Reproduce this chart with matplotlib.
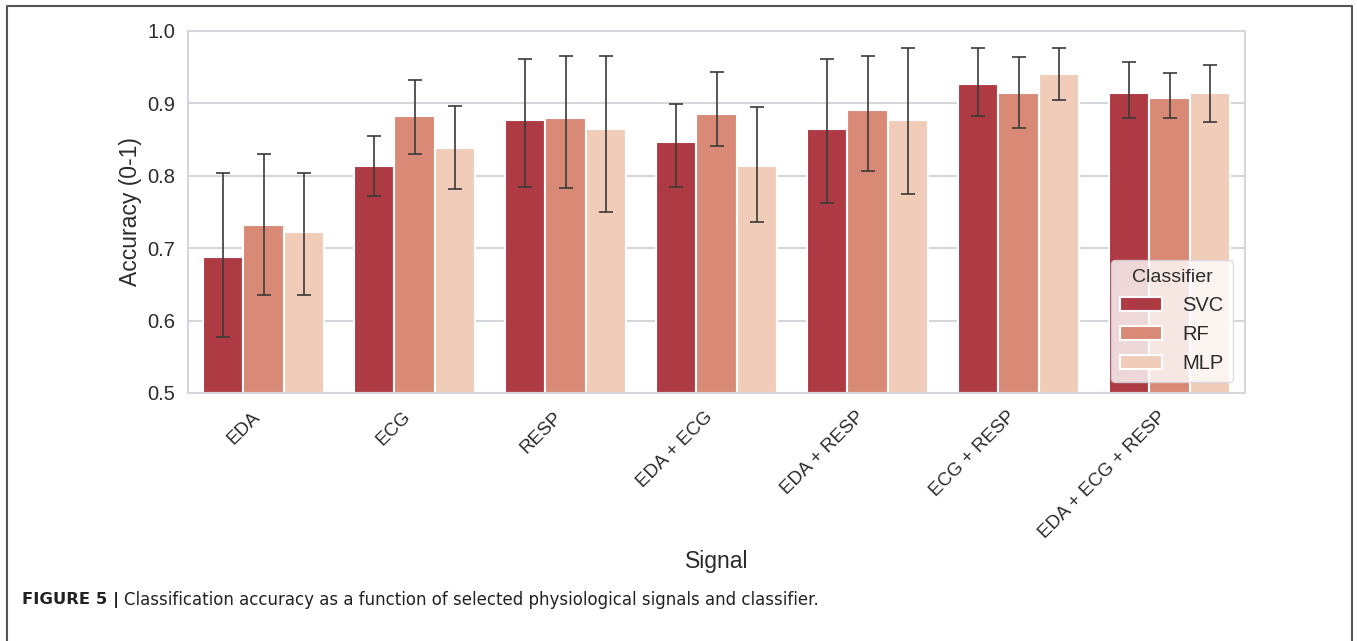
import numpy as np
import matplotlib
matplotlib.use('Agg')
import matplotlib.pyplot as plt
from matplotlib.lines import Line2D

plt.rcParams['font.family'] = ['Liberation Sans', 'DejaVu Sans']

signals = ['EDA', 'ECG', 'RESP', 'EDA + ECG', 'EDA + RESP', 'ECG + RESP', 'EDA + ECG + RESP']
classifiers = ['SVC', 'RF', 'MLP']

svc = [0.688, 0.814, 0.877, 0.846, 0.865, 0.927, 0.914]
svc_lo = [0.577, 0.772, 0.784, 0.784, 0.763, 0.882, 0.880]
svc_hi = [0.804, 0.855, 0.962, 0.899, 0.962, 0.976, 0.957]

rf = [0.732, 0.883, 0.880, 0.885, 0.891, 0.914, 0.908]
rf_lo = [0.635, 0.830, 0.783, 0.841, 0.806, 0.866, 0.880]
rf_hi = [0.830, 0.933, 0.965, 0.943, 0.966, 0.964, 0.942]

mlp = [0.722, 0.838, 0.865, 0.814, 0.877, 0.940, 0.914]
mlp_lo = [0.636, 0.782, 0.750, 0.736, 0.775, 0.905, 0.875]
mlp_hi = [0.804, 0.896, 0.965, 0.895, 0.977, 0.976, 0.953]

colors = ['#ae3a44', '#d88a76', '#f1cdb9']
grid_c = '#d3d6da'
text_c = '#2b2b2b'

W, H = 1357, 641
fig = plt.figure(figsize=(W/100, H/100), dpi=100)
ax = fig.add_axes([188/W, 1-393/H, (1245-188)/W, (393-31)/H])

x = np.arange(len(signals))
bw = 0.8/3
series = [(svc, svc_lo, svc_hi), (rf, rf_lo, rf_hi), (mlp, mlp_lo, mlp_hi)]
for i, (vals, lo, hi) in enumerate(series):
    pos = x - 0.8/2 + bw*(i+0.5)
    vals = np.array(vals)
    ax.bar(pos, vals - 0.5, bw, bottom=0.5, color=colors[i], edgecolor='white',
           linewidth=1.5, label=classifiers[i], zorder=2)
    err = [vals - np.array(lo), np.array(hi) - vals]
    ax.errorbar(pos, vals, yerr=err, fmt='none', ecolor='#3a3a3a', elinewidth=1.2,
                capsize=5, capthick=1.2, zorder=3)

ax.set_xlim(-0.5, len(signals)-0.5)
ax.set_ylim(0.5, 1.0)
ax.set_yticks([0.5, 0.6, 0.7, 0.8, 0.9, 1.0])
ax.set_yticklabels(['0.5', '0.6', '0.7', '0.8', '0.9', '1.0'])
ax.set_xticks(x)
ax.set_xticklabels(signals, rotation=45, ha='right')
ax.tick_params(axis='y', length=0, labelsize=14.5, colors=text_c, pad=9)
ax.tick_params(axis='x', length=0, labelsize=13.5, colors=text_c, pad=11)
ax.yaxis.grid(True, color=grid_c, lw=1.5, zorder=0)
ax.set_axisbelow(True)
for s in ax.spines.values():
    s.set_color(grid_c)
    s.set_linewidth(1.5)

ax.set_ylabel('Accuracy (0-1)', fontsize=16.5, color=text_c, labelpad=4)
ax.set_xlabel('Signal', fontsize=16.5, color=text_c, labelpad=6)

leg = ax.legend(title='Classifier', loc='lower right', fontsize=14.5, title_fontsize=14,
                frameon=True, fancybox=True, framealpha=0.8, edgecolor=grid_c,
                handlelength=2.1, handleheight=0.7, handletextpad=1.0,
                borderpad=0.45, labelspacing=0.5, borderaxespad=0,
                bbox_to_anchor=(0.9886, 0.03))
for t in leg.get_texts():
    t.set_color(text_c)
leg.get_title().set_color(text_c)

# caption frame and caption
pts = np.array([[7, 645], [7, 6], [1352, 6], [1352, 645]], dtype=float)
fig.add_artist(Line2D(pts[:, 0]/W, 1-pts[:, 1]/H, transform=fig.transFigure,
                      color='#555555', lw=1.5))
fig.text(22/W, 1-600/H, 'FIGURE 5 |', fontsize=11.8, fontweight='bold',
         family='DejaVu Sans', color='#222222', va='center', ha='left')
fig.text(124/W, 1-600/H, 'Classification accuracy as a function of selected physiological signals and classifier.',
         fontsize=12, family='DejaVu Sans', color='#222222', va='center', ha='left')

fig.savefig('out.png', dpi=100)
